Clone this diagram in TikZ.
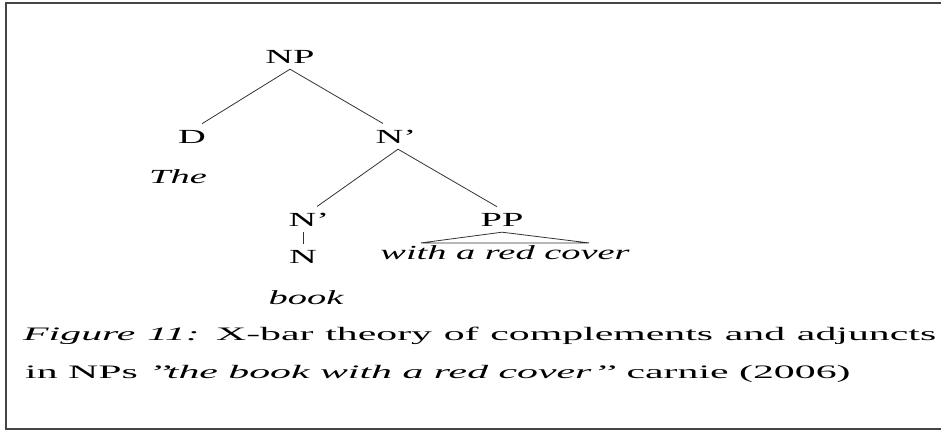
\documentclass[tikz,border=0pt]{standalone}
\usepackage{fontspec}
\setmainfont{Liberation Serif}[FakeStretch=1.92]
\newfontfamily\capfont{Liberation Serif}[FakeStretch=2.2]
\usetikzlibrary{calc}
\definecolor{framegray}{HTML}{454545}
\definecolor{linegray}{HTML}{333333}

\begin{document}
\begin{tikzpicture}[
    x=1pt, y=-1pt,
    cat/.style={inner xsep=0pt, inner ysep=6pt, anchor=base, text=black, font=\fontsize{20}{24}\selectfont},
    word/.style={inner xsep=0pt, inner ysep=2pt, anchor=base, text=black, font=\fontsize{20}{24}\selectfont\itshape},
    branch/.style={draw=linegray, line width=0.8pt},
    capline/.style={inner sep=0pt, anchor=base west, text=black, font=\capfont\fontsize{19}{24}\selectfont},
]
\useasboundingbox (0,0) rectangle (941,431);

% Frame, open on the right
\draw[framegray, line width=2pt] (941,3) -- (6,3) -- (6,429) -- (941,429);

% Categories
\node[cat] (np) at (290,63) {NP};
\node[cat] (d) at (192,143) {D};
\node[cat] (nbar) at (396,143) {N’};
\node[cat] (nbarlow) at (309,226) {N’};
\node[cat] (pp) at (502,226) {PP};
\node[cat] (n) at (303,263) {N};

% Words
\node[word] (the) at (178,183) {The};
\node[word] (book) at (306,304) {book};
\node[word] (cover) at (505,259) {with a red cover};

% Branches
\draw[branch] (np.south) -- ([xshift=10pt]d.north);
\draw[branch] (np.south) -- ([xshift=-13pt]nbar.north);
\draw[branch] ([xshift=2pt]nbar.south) -- ([xshift=8pt]nbarlow.north);
\draw[branch] ([xshift=2pt]nbar.south) -- ([xshift=-5pt]pp.north);
\draw[branch] (n.north) -- (n.north |- nbarlow.south);
\draw[branch] (pp.south) -- ($(cover.north)+(-84,0)$) -- ($(cover.north)+(84,0)$) -- cycle;

% Caption
\node[capline] (cap1) at (23,340) {\makebox[913pt][s]{\textit{Figure 11:} X-bar theory of complements and adjuncts}};
\node[capline] (cap2) at (25,378) {in NPs \textit{’’the book with a red cover’’} carnie (2006)};

\end{tikzpicture}
\end{document}
